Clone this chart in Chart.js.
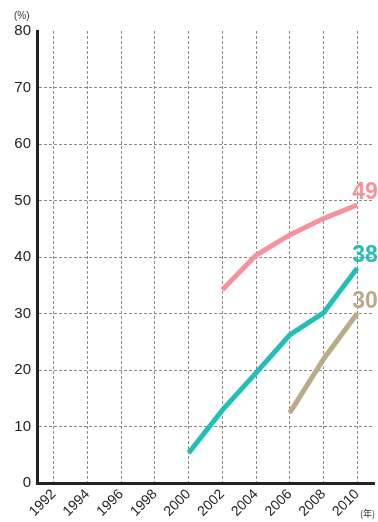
<!DOCTYPE html>
<html>
<head>
<meta charset="utf-8">
<script src="https://cdn.jsdelivr.net/npm/chart.js@4"></script>
<style>
  html, body { margin: 0; padding: 0; background: #fff; }
  #wrap { width: 378px; height: 522px; }
</style>
</head>
<body>
<div id="wrap"><canvas id="chart"></canvas></div>
<script>
// data
const years = [2000, 2002, 2004, 2006, 2008, 2010];
const pinkValues = [null, 34.2, 40.3, 43.9, 46.8, 49.2];
const tealValues = [5.3, 12.9, 19.5, 26.2, 30.1, 38.0];
const tanValues = [null, null, null, 12.4, 21.9, 30.0];
const endLabels = ['49', '38', '30'];
const xTicks = [1992, 1994, 1996, 1998, 2000, 2002, 2004, 2006, 2008, 2010];
const yTicks = [0, 10, 20, 30, 40, 50, 60, 70, 80];

const colors = ['#f4939c', '#22bfb9', '#b9aa88'];

function toPoints(values) {
    return years.map((yr, i) => ({ x: yr, y: values[i] }));
}

// end-of-line numbers, the (%) and (年) unit marks
const labelPlugin = {
    id: 'labels',
    afterDatasetsDraw(chart) {
        const ctx = chart.ctx;
        const xs = chart.scales.x, ys = chart.scales.y;
        ctx.save();
        ctx.font = 'bold 23px "Liberation Sans", Arial, sans-serif';
        ctx.textAlign = 'left';
        ctx.textBaseline = 'alphabetic';
        chart.data.datasets.forEach((ds, i) => {
            const last = ds.data[ds.data.length - 1];
            ctx.fillStyle = colors[i];
            ctx.fillText(endLabels[i], xs.getPixelForValue(last.x) - 5, ys.getPixelForValue(last.y) - 6);
        });
        ctx.fillStyle = '#333';
        ctx.font = '10px "Liberation Sans", Arial, sans-serif';
        ctx.fillText('(%)', 14, 19);
        ctx.font = '9px "Noto Sans CJK JP", sans-serif';
        ctx.fillText('(年)', 360, 517);
        ctx.restore();
    }
};

new Chart(document.getElementById('chart'), {
    type: 'line',
    data: {
        datasets: [
            { data: toPoints(pinkValues), borderColor: colors[0] },
            { data: toPoints(tealValues), borderColor: colors[1] },
            { data: toPoints(tanValues), borderColor: colors[2] }
        ]
    },
    options: {
        responsive: true,
        maintainAspectRatio: false,
        animation: false,
        layout: { padding: { top: 31, right: 4, left: 0, bottom: 0 } },
        elements: {
            line: { borderWidth: 5, tension: 0, borderCapStyle: 'butt', borderJoinStyle: 'miter' },
            point: { radius: 0 }
        },
        plugins: {
            legend: { display: false },
            tooltip: { enabled: false }
        },
        scales: {
            x: {
                type: 'linear',
                min: 1991,
                max: 2011,
                afterBuildTicks: (axis) => { axis.ticks = xTicks.map(v => ({ value: v })); },
                afterFit: (axis) => { axis.height = 39; },
                border: { color: '#222', width: 3, dash: [3, 2] },
                grid: { color: '#8a8a8a', lineWidth: 1, drawTicks: false },
                ticks: {
                    minRotation: 45,
                    maxRotation: 45,
                    padding: 3,
                    color: '#222',
                    font: { family: '"Liberation Sans", Arial, sans-serif', size: 14 },
                    callback: (v) => String(v)
                }
            },
            y: {
                min: 0,
                max: 80,
                afterBuildTicks: (axis) => { axis.ticks = yTicks.map(v => ({ value: v })); },
                afterFit: (axis) => { axis.width = 37; },
                border: { color: '#222', width: 3, dash: [3, 2] },
                grid: {
                    drawTicks: false,
                    lineWidth: 1,
                    color: (c) => (c.tick && c.tick.value === 80) ? 'rgba(0,0,0,0)' : '#8a8a8a'
                },
                ticks: {
                    padding: 6,
                    color: '#222',
                    font: { family: '"Liberation Sans", Arial, sans-serif', size: 15 }
                }
            }
        }
    },
    plugins: [labelPlugin]
});
</script>
</body>
</html>
